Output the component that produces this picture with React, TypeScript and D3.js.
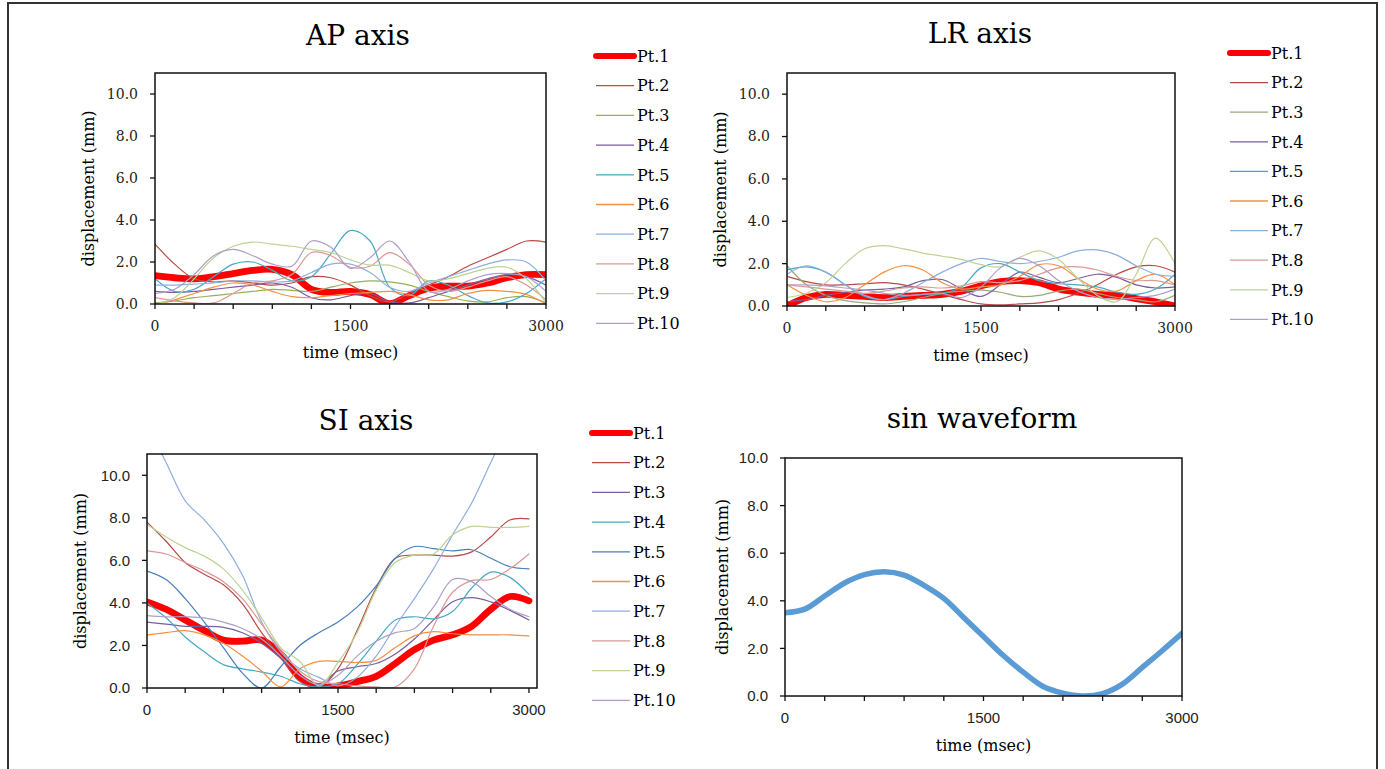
import React from "react";
import * as d3 from "d3";

// sample times (msec), every 150 ms
const TIMES = [0, 150, 300, 450, 600, 750, 900, 1050, 1200, 1350, 1500, 1650, 1800, 1950, 2100, 2250, 2400, 2550, 2700, 2850, 3000];

const PT_NAMES = ["Pt.1", "Pt.2", "Pt.3", "Pt.4", "Pt.5", "Pt.6", "Pt.7", "Pt.8", "Pt.9", "Pt.10"];

const Y_TICKS = [0, 2, 4, 6, 8, 10];
const X_TICK_MARKS = [0, 300, 600, 900, 1200, 1500, 1800, 2100, 2400, 2700, 3000];
const X_TICK_LABELS = [0, 1500, 3000];

const AP_COLORS = ["#ff0000", "#b94a47", "#93b255", "#7b5e9e", "#46a9c4", "#f59042", "#8eaee0", "#dc9896", "#bcd493", "#ae9ec8"];
const LR_COLORS = ["#ff0000", "#b94a47", "#9aa97a", "#7b5e9e", "#46a9c4", "#f59042", "#8eaee0", "#dc9896", "#bcd493", "#ae9ec8"];
const SI_COLORS = ["#ff0000", "#b94a47", "#7b5e9e", "#46a9c4", "#4a7ebb", "#f59042", "#8eaee0", "#dc9896", "#bcd493", "#ae9ec8"];
const SIN_COLOR = "#5b9bd5";

// AP axis (mm)
const AP_PT1 = [1.35, 1.25, 1.2, 1.3, 1.45, 1.6, 1.65, 1.4, 0.7, 0.55, 0.6, 0.45, 0.02, 0.4, 0.75, 0.85, 0.85, 1.0, 1.25, 1.4, 1.4];
const AP_PT2 = [2.85, 1.9, 1.2, 1.05, 1.1, 1.0, 0.9, 1.0, 1.3, 1.25, 0.9, 0.4, 0.1, 0.5, 0.9, 1.3, 1.8, 2.2, 2.6, 3.0, 2.95];
const AP_PT3 = [0.05, 0.15, 0.3, 0.4, 0.5, 0.6, 0.7, 0.65, 0.6, 0.8, 1.0, 1.1, 1.05, 0.9, 0.6, 0.35, 0.15, 0.1, 0.3, 0.35, 0.05];
const AP_PT4 = [0.6, 0.55, 0.6, 0.7, 0.8, 0.9, 1.0, 0.8, 0.3, 0.2, 0.4, 0.5, 0.1, 0.05, 0.3, 0.6, 0.9, 1.2, 1.4, 1.3, 0.9];
const AP_PT5 = [1.2, 0.6, 0.7, 1.3, 1.9, 2.0, 1.6, 1.1, 1.3, 2.4, 3.5, 3.0, 0.8, 0.4, 1.1, 0.9, 0.4, 0.05, 0.1, 0.5, 1.2];
const AP_PT6 = [0.0, 0.2, 0.5, 0.8, 1.0, 0.9, 0.6, 0.35, 0.3, 0.4, 0.5, 0.55, 0.6, 0.45, 0.2, 0.2, 0.5, 0.65, 0.6, 0.45, 0.0];
const AP_PT7 = [0.9, 0.9, 0.95, 1.0, 1.1, 1.1, 1.05, 1.1, 1.5, 1.9, 1.9, 1.5, 0.8, 0.6, 1.0, 1.3, 1.6, 1.9, 2.1, 2.0, 1.1];
const AP_PT8 = [0.3, 0.15, 0.05, 0.05, 0.5, 1.0, 1.1, 1.4, 2.45, 2.3, 1.75, 1.8, 2.45, 1.9, 0.9, 0.6, 0.8, 1.1, 1.3, 0.9, 0.2];
const AP_PT9 = [0.0, 0.3, 1.2, 2.2, 2.75, 2.95, 2.85, 2.75, 2.6, 2.45, 2.1, 1.85, 1.85, 1.5, 1.1, 1.2, 1.45, 1.7, 1.75, 1.2, 0.05];
const AP_PT10 = [0.5, 0.7, 1.4, 2.3, 2.6, 2.3, 1.9, 1.8, 3.0, 2.7, 1.7, 2.2, 3.0, 2.0, 0.6, 0.7, 1.1, 1.4, 1.45, 1.3, 0.6];

// LR axis (mm)
const LR_PT1 = [0.0, 0.4, 0.55, 0.5, 0.45, 0.4, 0.45, 0.5, 0.55, 0.7, 0.95, 1.15, 1.2, 1.1, 0.8, 0.65, 0.55, 0.5, 0.35, 0.2, 0.0];
const LR_PT2 = [1.4, 1.15, 1.0, 1.0, 1.05, 1.1, 1.0, 0.8, 0.55, 0.3, 0.1, 0.05, 0.1, 0.15, 0.3, 0.6, 1.0, 1.5, 1.85, 1.9, 1.6];
const LR_PT3 = [1.9, 1.0, 0.5, 0.25, 0.15, 0.1, 0.2, 0.4, 0.6, 0.7, 0.75, 0.65, 0.45, 0.5, 0.7, 0.8, 0.6, 0.4, 0.3, 0.2, 0.5];
const LR_PT4 = [0.2, 0.3, 0.5, 0.65, 0.75, 0.8, 0.9, 1.2, 1.25, 0.8, 0.45, 1.0, 1.6, 1.35, 1.1, 1.3, 1.5, 1.35, 1.0, 0.85, 0.9];
const LR_PT5 = [1.7, 1.85, 1.6, 1.0, 0.45, 0.3, 0.45, 0.55, 0.6, 0.9, 1.8, 2.0, 1.6, 1.2, 1.05, 1.0, 0.9, 0.65, 0.55, 0.8, 1.5];
const LR_PT6 = [1.0, 0.5, 0.2, 0.4, 1.0, 1.6, 1.9, 1.7, 1.1, 0.8, 0.9, 1.0, 1.4, 1.95, 1.9, 1.3, 0.8, 0.7, 1.2, 1.5, 1.0];
const LR_PT7 = [1.5, 1.9, 1.6, 1.0, 0.5, 0.3, 0.6, 1.1, 1.6, 2.0, 2.25, 2.1, 2.0, 2.1, 2.3, 2.6, 2.65, 2.4, 1.9, 1.5, 1.4];
const LR_PT8 = [1.0, 0.9, 0.8, 0.7, 0.6, 0.7, 0.85, 0.9, 0.85, 0.95, 1.15, 1.1, 1.2, 1.5, 1.8, 1.85, 1.7, 1.4, 1.2, 1.2, 1.0];
const LR_PT9 = [0.4, 0.6, 1.1, 2.0, 2.7, 2.85, 2.7, 2.5, 2.35, 2.2, 1.95, 1.85, 2.3, 2.6, 2.2, 1.3, 0.5, 0.2, 1.5, 3.2, 2.0];
const LR_PT10 = [1.0, 1.0, 0.95, 0.85, 0.75, 0.6, 0.5, 0.55, 0.6, 0.4, 0.9, 1.8, 2.25, 1.9, 1.2, 0.7, 0.4, 0.3, 0.4, 0.5, 0.8];

// SI axis (mm)
const SI_PT1 = [4.05, 3.7, 3.2, 2.7, 2.25, 2.2, 2.25, 1.6, 0.5, 0.05, 0.1, 0.3, 0.55, 1.15, 1.8, 2.25, 2.5, 2.9, 3.7, 4.3, 4.1];
const SI_PT2 = [7.8, 6.9, 5.9, 5.35, 4.85, 3.95, 2.6, 1.45, 0.3, 0.05, 0.9, 2.7, 4.7, 6.1, 6.25, 6.25, 6.2, 6.4, 7.1, 7.9, 7.95];
const SI_PT3 = [3.1, 3.0, 2.9, 2.9, 2.85, 2.6, 2.1, 1.4, 0.6, 0.2, 0.8, 1.0, 1.15, 1.6, 2.3, 3.2, 4.05, 4.25, 4.05, 3.65, 3.2];
const SI_PT4 = [4.0, 3.3, 2.4, 1.7, 1.1, 0.9, 0.75, 0.55, 0.2, 0.05, 0.2, 1.1, 2.2, 3.2, 3.35, 3.25, 3.6, 4.7, 5.45, 5.2, 4.4];
const SI_PT5 = [5.5, 5.1, 4.2, 3.1, 1.9, 0.7, 0.0, 1.0, 2.0, 2.6, 3.1, 3.8, 4.8, 6.1, 6.65, 6.55, 6.45, 6.5, 6.1, 5.7, 5.6];
const SI_PT6 = [2.5, 2.6, 2.7, 2.5, 2.1, 1.5, 0.8, 0.05, 0.9, 1.25, 1.25, 1.2, 1.3, 1.9, 2.45, 2.65, 2.55, 2.5, 2.5, 2.5, 2.45];
const SI_PT7 = [12.4, 10.6, 8.8, 7.9, 6.8, 5.3, 3.1, 1.7, 0.9, 0.5, 0.1, 0.5, 1.5, 2.9, 4.2, 5.6, 7.2, 8.7, 10.6, 12.5, 14.3];
const SI_PT8 = [6.45, 6.3, 5.9, 5.5, 5.0, 4.2, 3.0, 1.8, 0.8, 0.3, 0.2, 0.1, 0.05, 0.05, 0.9, 2.9, 4.5, 5.05, 5.1, 5.6, 6.3];
const SI_PT9 = [7.7, 7.1, 6.6, 6.2, 5.6, 4.6, 3.3, 1.9, 1.25, 0.1, 1.2, 2.6, 4.6, 5.9, 6.25, 6.3, 7.2, 7.6, 7.55, 7.55, 7.6];
const SI_PT10 = [3.4, 3.35, 3.35, 3.3, 3.1, 2.8, 2.3, 1.5, 0.6, 0.15, 0.6, 1.5, 2.2, 2.6, 2.8, 3.8, 5.1, 5.0, 4.3, 3.7, 3.35];

// sin waveform (mm)
const SIN_WAVE = [3.5, 3.65, 4.2, 4.75, 5.1, 5.22, 5.08, 4.65, 4.1, 3.3, 2.5, 1.7, 1.0, 0.4, 0.12, 0.0, 0.1, 0.5, 1.2, 1.9, 2.63];

const AP_SERIES = [AP_PT1, AP_PT2, AP_PT3, AP_PT4, AP_PT5, AP_PT6, AP_PT7, AP_PT8, AP_PT9, AP_PT10];
const LR_SERIES = [LR_PT1, LR_PT2, LR_PT3, LR_PT4, LR_PT5, LR_PT6, LR_PT7, LR_PT8, LR_PT9, LR_PT10];
const SI_SERIES = [SI_PT1, SI_PT2, SI_PT3, SI_PT4, SI_PT5, SI_PT6, SI_PT7, SI_PT8, SI_PT9, SI_PT10];

const SERIF = "'DejaVu Serif', serif";
const SANS = "'Liberation Sans', Arial, sans-serif";

const panels = [
  {
    id: "ap", title: "AP axis", titleX: 358, titleY: 45,
    left: 155, right: 546, top: 73, bottom: 304, xMax: 3000, yMax: 11,
    series: AP_SERIES, colors: AP_COLORS, widths: null,
    tickFont: SERIF, tickSize: 14,
    yLabelX: 88, xLabelY: 358,
    legend: { x: 596, y: 56, step: 29.7 },
  },
  {
    id: "lr", title: "LR axis", titleX: 980, titleY: 43,
    left: 787, right: 1175, top: 73, bottom: 306, xMax: 3000, yMax: 11,
    series: LR_SERIES, colors: LR_COLORS, widths: null,
    tickFont: SERIF, tickSize: 14,
    yLabelX: 720, xLabelY: 361,
    legend: { x: 1230, y: 53, step: 29.6 },
  },
  {
    id: "si", title: "SI axis", titleX: 366, titleY: 430,
    left: 147, right: 537, top: 454, bottom: 688, xMax: 3063, yMax: 11,
    series: SI_SERIES, colors: SI_COLORS, widths: null,
    tickFont: SANS, tickSize: 15,
    yLabelX: 80, xLabelY: 743,
    legend: { x: 592, y: 433, step: 29.7 },
  },
  {
    id: "sin", title: "sin waveform", titleX: 982, titleY: 428,
    left: 785, right: 1182, top: 458, bottom: 696, xMax: 3000, yMax: 10,
    series: [SIN_WAVE], colors: [SIN_COLOR], widths: [5.5],
    tickFont: SANS, tickSize: 15,
    yLabelX: 722, xLabelY: 751,
    legend: null,
  },
];

function Panel({ p }: { p: any }) {
  const x = d3.scaleLinear().domain([0, p.xMax]).range([p.left, p.right]);
  const y = d3.scaleLinear().domain([0, p.yMax]).range([p.bottom, p.top]);
  const line = d3
    .line<number>()
    .x((_, i) => x(TIMES[i]))
    .y((d) => y(d))
    .curve(d3.curveCatmullRom.alpha(0.5));
  const fmt = d3.format(".1f");
  const width = (i: number) => (p.widths ? p.widths[i] : i === 0 ? 6.8 : 1.2);
  const midY = (p.top + p.bottom) / 2;

  return (
    <g>
      <defs>
        <clipPath id={"clip-" + p.id}>
          <rect x={p.left} y={p.top - 1} width={p.right - p.left} height={p.bottom - p.top + 1} />
        </clipPath>
      </defs>
      <text x={p.titleX} y={p.titleY} textAnchor="middle" fontFamily={SERIF} fontSize={28} fill="#000">
        {p.title}
      </text>

      <g clipPath={"url(#clip-" + p.id + ")"}>
        {p.series.map((s: number[], i: number) => (
          <path key={i} d={line(s) || ""} fill="none" stroke={p.colors[i]} strokeWidth={width(i)}
            strokeLinejoin="round" strokeLinecap="round" />
        ))}
      </g>

      <rect x={p.left} y={p.top} width={p.right - p.left} height={p.bottom - p.top}
        fill="none" stroke="#111" strokeWidth={1.5} />

      {Y_TICKS.map((t) => (
        <g key={"y" + t}>
          <line x1={p.left - 5} x2={p.left} y1={y(t)} y2={y(t)} stroke="#111" strokeWidth={1.3} />
          <text x={p.left - 17} y={y(t)} dy="0.35em" textAnchor="end" fontFamily={p.tickFont} fontSize={p.tickSize} fill="#222">
            {fmt(t)}
          </text>
        </g>
      ))}
      {X_TICK_MARKS.map((t) => (
        <line key={"x" + t} x1={x(t)} x2={x(t)} y1={p.bottom} y2={p.bottom + 5} stroke="#111" strokeWidth={1.3} />
      ))}
      {X_TICK_LABELS.map((t) => (
        <text key={"xl" + t} x={x(t)} y={p.bottom + 27} textAnchor="middle" fontFamily={p.tickFont} fontSize={p.tickSize} fill="#222">
          {t}
        </text>
      ))}

      <text x={(p.left + p.right) / 2} y={p.xLabelY} textAnchor="middle" fontFamily={SERIF} fontSize={16} fill="#000">
        time (msec)
      </text>
      <text transform={`translate(${p.yLabelX},${midY}) rotate(-90)`} textAnchor="middle" dy="0.35em"
        fontFamily={SERIF} fontSize={16} fill="#000">
        displacement (mm)
      </text>

      {p.legend &&
        PT_NAMES.map((name, i) => {
          const ly = p.legend.y + i * p.legend.step;
          return (
            <g key={name}>
              <line x1={p.legend.x} x2={p.legend.x + 38} y1={ly} y2={ly} stroke={p.colors[i]}
                strokeWidth={i === 0 ? 6 : 1.3} strokeLinecap={i === 0 ? "round" : "butt"} />
              <text x={p.legend.x + 41} y={ly} dy="0.36em" fontFamily={SERIF} fontSize={16} fill="#000">
                {name}
              </text>
            </g>
          );
        })}
    </g>
  );
}

export default function App() {
  return (
    <svg width={1385} height={769} style={{ position: "absolute", left: 0, top: 0, background: "#fff" }}>
      <rect x={0} y={0} width={1385} height={769} fill="#fff" />
      <rect x={8} y={3} width={1369} height={790} fill="none" stroke="#333" strokeWidth={2} />
      {panels.map((p) => (
        <Panel key={p.id} p={p} />
      ))}
    </svg>
  );
}
